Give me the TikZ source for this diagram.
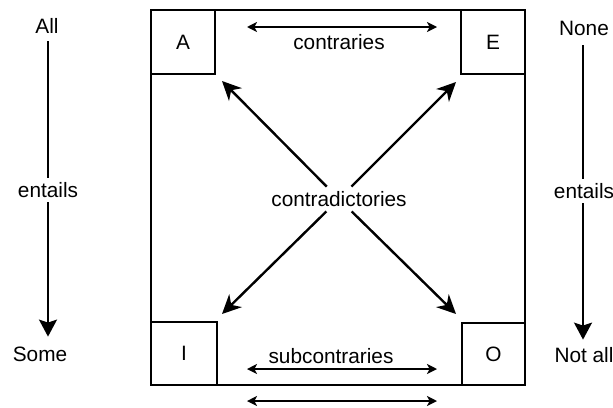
\documentclass[tikz,border=0pt]{standalone}
\usepackage{fontspec}
\setmainfont{Liberation Sans}
\usetikzlibrary{arrows.meta}
\begin{document}
\begin{tikzpicture}[x=0.5pt,y=-0.5pt,
  lab/.style={font=\fontsize{10.4}{12}\selectfont, inner sep=0pt, minimum height=12pt},
  corner/.style={draw, line width=0.8pt, font=\fontsize{10.4}{12}\selectfont, inner sep=0pt},
  diag/.style={line width=1.2pt, -{Stealth[length=9.5pt,width=9pt,inset=3pt]}},
  vert/.style={line width=1.1pt, -{Stealth[length=8.5pt,width=9pt,inset=1.5pt]}},
  horiz/.style={line width=0.8pt, {Stealth[length=5pt,width=5pt,inset=1.3pt]}-{Stealth[length=5pt,width=5pt,inset=1.3pt]}}]
\useasboundingbox (0,0) rectangle (613,407);
% outer square
\draw[line width=0.8pt] (151,10) rectangle (525,385);
% corner boxes
\node[corner, minimum width=32pt, minimum height=32pt] (A) at (183,42) {A};
\node[corner, minimum width=32pt, minimum height=32pt] (E) at (493,42) {E};
\node[corner, minimum width=33pt, minimum height=31.5pt] (I) at (184,353.5) {I};
\node[corner, minimum width=31.5pt, minimum height=31pt] (O) at (493.5,354) {O};
% labels
\node[lab] (contr) at (339,42) {contraries};
\node[lab] (sub) at (331,356) {subcontraries};
\node[lab, inner xsep=2pt] (cd) at (339,199) {contradictories};
% contraries arrows
\coordinate (c1) at (247,27); \coordinate (c2) at (437,27);
\draw[horiz] (c1) -- (c2);
\coordinate (s1) at (247,369); \coordinate (s2) at (437,369);
\draw[horiz] (s1) -- (s2);
\coordinate (b1) at (247,401); \coordinate (b2) at (437,401);
\draw[horiz] (b1) -- (b2);
% diagonals
\coordinate (tA) at (222,81);
\coordinate (tE) at (456,82);
\coordinate (tI) at (222,314);
\coordinate (tO) at (456,314);
\draw[diag] (cd) -- (tA);
\draw[diag] (cd) -- (tE);
\draw[diag] (cd) -- (tI);
\draw[diag] (cd) -- (tO);
% left column
\node[lab] (all) at (47,26) {All};
\node[lab] (ent1) at (48,190) {entails};
\node[lab] (some) at (40,354) {Some};
\draw[line width=1.1pt, shorten <=1.5pt] (all.south -| ent1) -- (ent1);
\draw[vert, shorten >=2.5pt] (ent1) -- (ent1 |- some.north);
% right column
\node[lab] (none) at (584,28) {None};
\node[lab] (ent2) at (584,191) {entails};
\node[lab] (notall) at (584,355) {Not all};
\draw[line width=1.1pt, shorten <=2.5pt] (none.south -| 583,0) -- (ent2.north -| 583,0);
\draw[vert, shorten >=1.5pt] (ent2.south -| 583,0) -- (notall.north -| 583,0);
\end{tikzpicture}
\end{document}
